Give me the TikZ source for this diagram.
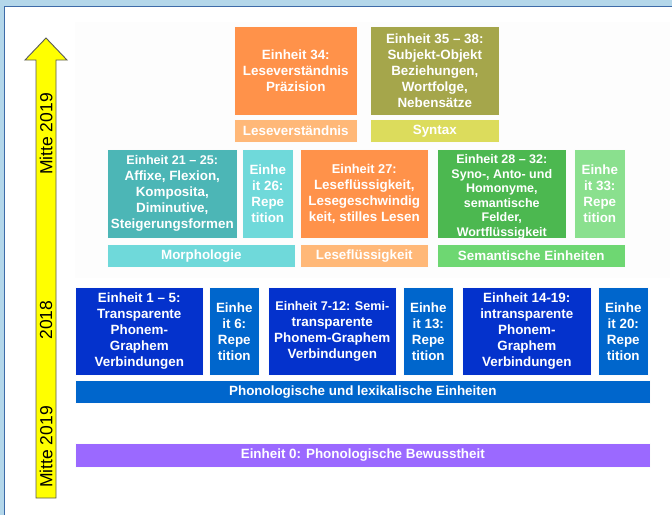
\documentclass[tikz,border=0pt]{standalone}
\usepackage{fontspec}
\setmainfont{Liberation Sans}
\definecolor{frameLB}{RGB}{180,215,234}
\definecolor{frameDB}{RGB}{62,107,168}
\definecolor{bgGray}{RGB}{253,253,253}
\definecolor{cOrange}{RGB}{255,146,74}
\definecolor{cOrangeL}{RGB}{255,184,120}
\definecolor{cOlive}{RGB}{165,166,75}
\definecolor{cYellowG}{RGB}{220,220,92}
\definecolor{cTeal}{RGB}{76,182,182}
\definecolor{cTealL}{RGB}{111,217,218}
\definecolor{cGreen}{RGB}{76,184,80}
\definecolor{cGreenL}{RGB}{138,224,142}
\definecolor{cGreenM}{RGB}{110,215,114}
\definecolor{cBlueD}{RGB}{4,50,204}
\definecolor{cBlueM}{RGB}{0,102,204}
\definecolor{cPurple}{RGB}{155,105,255}
\definecolor{cArrow}{RGB}{255,255,0}
\tikzset{
  unitbox/.style={draw=white!75!black!5, line width=0.6pt, text=white, align=center,
    inner sep=0pt, anchor=north west, font=\bfseries\fontsize{13.4}{16}\selectfont},
  unittext/.style={text=white, align=center, inner sep=0pt},
  yearlabel/.style={rotate=90, text=black, font=\fontsize{17.5}{18}\selectfont, inner sep=0pt}
}
\newcommand{\ubox}[7]{% name, x, y, w, h, color, text
  \node[unitbox, fill=#6, minimum width=#4pt, minimum height=#5pt] (#1) at (#2,#3) {#7};}
\begin{document}
\begin{tikzpicture}[x=1pt,y=-1pt]
\useasboundingbox (0,0) rectangle (672,515);
\fill[white] (0,0) rectangle (672,515);
% frame
\fill[frameLB] (0,0) rectangle (672,6);
\fill[frameLB] (0,0) rectangle (4,515);
\draw[frameDB, line width=1.3pt] (4.6,515) -- (4.6,6.6) -- (672,6.6);
% light background
\fill[bgGray] (75,22) rectangle (670,278);
% arrow
\draw[fill=cArrow, draw=black!65, line width=0.9pt, line join=miter]
  (36,498) -- (36,60) -- (25,60) -- (46,38) -- (67,60) -- (56,60) -- (56,498) -- cycle;
\node[yearlabel] (y1) at (46,134) {Mitte 2019};
\node[yearlabel] (y2) at (46,320) {2018};
\node[yearlabel] (y3) at (46,447) {Mitte 2019};
% top row
\ubox{e34}{234}{26}{123}{89}{cOrange}{\fontsize{13.4}{16.5}\selectfont Einheit 34:\\Leseverständnis\\Präzision}
\ubox{e35}{370}{26}{129}{89}{cOlive}{\fontsize{13.4}{16.5}\selectfont Einheit 35 – 38:\\Subjekt-Objekt\\Beziehungen,\\Wortfolge,\\Nebensätze}
\ubox{lv}{234}{119}{123}{23}{cOrangeL}{Leseverständnis}
\ubox{sy}{370}{119}{129}{23}{cYellowG}{Syntax}
% second row
\ubox{e21}{107}{149}{130}{89}{cTeal}{\fontsize{12.6}{15}\selectfont Einheit 21 – 25:\\Affixe, Flexion,\\Komposita,\\Diminutive,\\Steigerungsformen}
\ubox{e26}{242}{149}{51}{89}{cTealL}{Einhe\\it 26:\\Repe\\tition}
\ubox{e27}{300}{149}{128}{89}{cOrange}{\fontsize{12.8}{15}\selectfont Einheit 27:\\Leseflüssigkeit,\\Lesegeschwindig\\keit, stilles Lesen}
\ubox{e28}{437}{149}{129}{89}{cGreen}{}
\node[unittext, font=\bfseries\fontsize{12.5}{14.6}\selectfont] (e28t) at ([yshift=-3pt]e28.center)
  {Einheit 28 – 32:\\Syno-, Anto- und\\Homonyme,\\semantische\\Felder,\\Wortflüssigkeit};
\ubox{e33}{574}{149}{51}{89}{cGreenL}{Einhe\\it 33:\\Repe\\tition}
\ubox{mo}{107}{244}{188}{23}{cTealL}{Morphologie}
\ubox{lf}{300}{244}{128}{23}{cOrangeL}{Leseflüssigkeit}
\ubox{se}{437}{244}{188}{23}{cGreenM}{Semantische Einheiten}
% third row
\ubox{e1}{75}{287}{128}{88}{cBlueD}{Einheit 1 – 5:\\Transparente\\Phonem-\\Graphem\\Verbindungen}
\ubox{e6}{209}{287}{50}{88}{cBlueM}{Einhe\\it 6:\\Repe\\tition}
\ubox{e7}{268}{287}{128}{88}{cBlueD}{\fontsize{12.6}{14.8}\selectfont Einheit 7-12: Semi-\\transparente\\Phonem-Graphem\\Verbindungen}
\ubox{e13}{403}{287}{50}{88}{cBlueM}{Einhe\\it 13:\\Repe\\tition}
\ubox{e14}{462}{287}{129}{88}{cBlueD}{Einheit 14-19:\\intransparente\\Phonem-\\Graphem\\Verbindungen}
\ubox{e20}{598}{287}{50}{88}{cBlueM}{Einhe\\it 20:\\Repe\\tition}
\ubox{ph}{75}{380}{575}{23}{cBlueM}{Phonologische und lexikalische Einheiten}
% bottom
\ubox{e0}{75}{443}{575}{24}{cPurple}{\fontsize{13.4}{15}\selectfont Einheit 0: Phonologische Bewusstheit}
\end{tikzpicture}
\end{document}
